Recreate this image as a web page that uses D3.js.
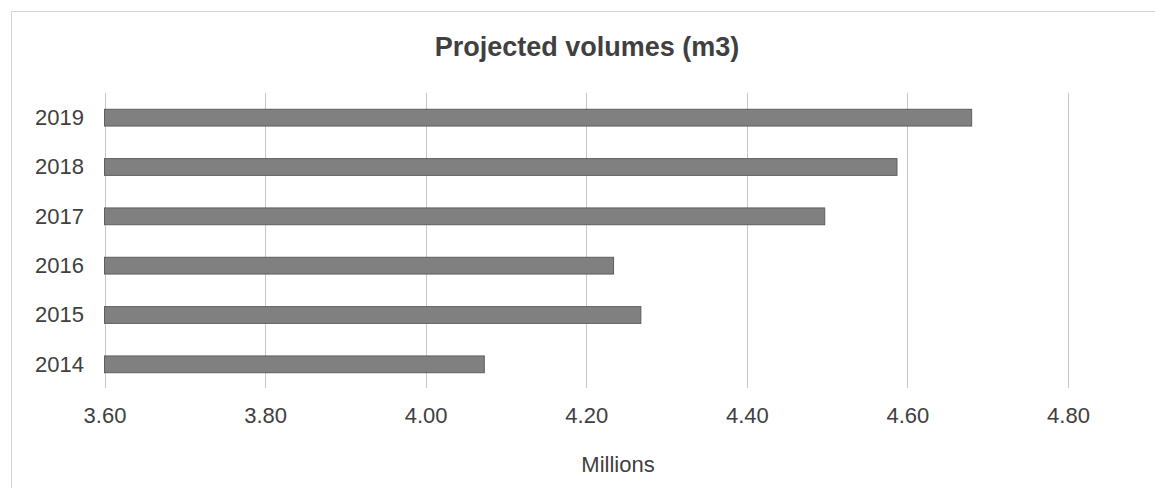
<!DOCTYPE html>
<html><head><meta charset="utf-8">
<script src="https://cdn.jsdelivr.net/npm/d3@7"></script>
<style>body{margin:0;background:#fff}svg{display:block}text{font-family:"Liberation Sans",Arial,sans-serif}</style>
</head><body>
<script>
const title = "Projected volumes (m3)";
const axisTitle = "Millions";
const years = ["2014","2015","2016","2017","2018","2019"];
const volumes = [4.073, 4.268, 4.234, 4.497, 4.587, 4.680];
const xTicks = [3.6, 3.8, 4.0, 4.2, 4.4, 4.6, 4.8];

const W = 1155, H = 488;
const svg = d3.select("body").append("svg").attr("width", W).attr("height", H);

svg.append("rect").attr("x", 11.5).attr("y", 11.5).attr("width", W - 10).attr("height", H)
  .attr("fill", "#fff").attr("stroke", "#d4d4d4");

const x = d3.scaleLinear().domain([3.6, 4.8]).range([104.5, 1068]);
const y = d3.scaleBand().domain(years.slice().reverse()).range([93, 389]).paddingInner(0.66).paddingOuter(0.33);

svg.append("g").selectAll("line").data(xTicks).join("line")
  .attr("x1", d => Math.round(x(d)) + 0.5).attr("x2", d => Math.round(x(d)) + 0.5)
  .attr("y1", 93).attr("y2", 388)
  .attr("stroke", "#c6c6c6").attr("stroke-width", 1);

svg.append("g").selectAll("rect").data(years).join("rect")
  .attr("x", x(3.6)).attr("y", d => y(d))
  .attr("width", (d, i) => x(volumes[i]) - x(3.6))
  .attr("height", y.bandwidth())
  .attr("fill", "#808080").attr("stroke", "#5e5e5e").attr("stroke-width", 1);

const xAxis = d3.axisBottom(x).tickValues(xTicks).tickFormat(d3.format(".2f")).tickSize(0).tickPadding(0);
const gx = svg.append("g").attr("transform", "translate(0,416)").call(xAxis);
gx.select(".domain").remove();
gx.selectAll("text").attr("font-size", 22).attr("fill", "#404040").attr("y", 0).attr("dy", "0.33em")
  .style("font-family", '"Liberation Sans",Arial,sans-serif');

const yAxis = d3.axisLeft(y).tickSize(0).tickPadding(0);
const gy = svg.append("g").attr("transform", "translate(84,0)").call(yAxis);
gy.select(".domain").remove();
gy.selectAll("text").attr("font-size", 22).attr("fill", "#404040").attr("dy", "0.33em")
  .style("font-family", '"Liberation Sans",Arial,sans-serif');

svg.append("text").attr("x", 587).attr("y", 56).attr("text-anchor", "middle")
  .attr("font-size", 27).attr("font-weight", "bold").attr("fill", "#404040").text(title);

svg.append("text").attr("x", 618).attr("y", 472).attr("text-anchor", "middle")
  .attr("font-size", 22).attr("fill", "#404040").text(axisTitle);
</script>
</body></html>
